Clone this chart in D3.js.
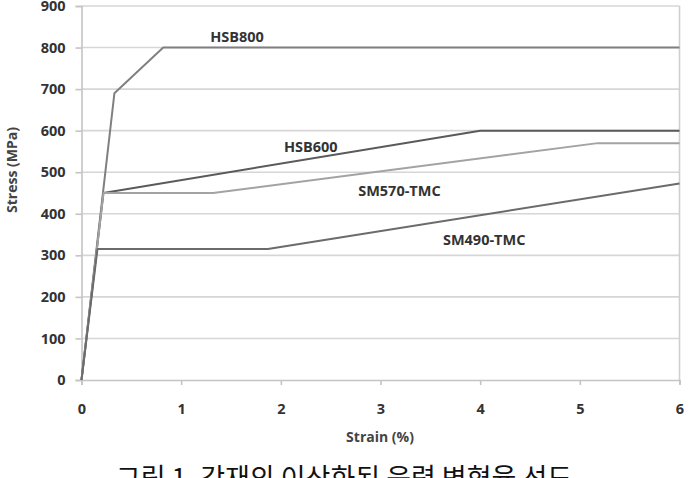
<!DOCTYPE html>
<html><head><meta charset="utf-8">
<script src="https://cdn.jsdelivr.net/npm/d3@7"></script>
<style>body{margin:0;background:#fff}svg{display:block}</style>
</head><body>
<svg id="c" width="689" height="478"></svg>
<script>
const xTicks = [0,1,2,3,4,5,6];
const yTicks = [0,100,200,300,400,500,600,700,800,900];
const seriesNames = ["HSB800","HSB600","SM570-TMC","SM490-TMC"];
const hsb800Strain = [0, 0.33, 0.82, 6];
const hsb800Stress = [0, 690, 800, 800];
const hsb600Strain = [0, 0.22, 4.0, 6];
const hsb600Stress = [0, 450, 600, 600];
const sm570Strain = [0, 0.22, 1.32, 5.18, 6];
const sm570Stress = [0, 450, 450, 570, 570];
const sm490Strain = [0, 0.16, 1.87, 6];
const sm490Stress = [0, 315, 315, 473];
const labelStrain = [1.56, 2.3, 3.19, 4.04];
const labelStress = [827, 561, 455, 337];
const captionText = "그림 1. 강재의 이상화된 응력 변형율 선도";

const svg = d3.select("#c");
const x = d3.scaleLinear().domain([0,6]).range([81.5,679.5]);
const y = d3.scaleLinear().domain([0,900]).range([380,6]);

// gridlines
svg.append("g").selectAll("line").data(yTicks.filter(d=>d>0)).join("line")
  .attr("x1",x(0)).attr("x2",x(6)).attr("y1",d=>y(d)).attr("y2",d=>y(d))
  .attr("stroke","#d6d6d6").attr("stroke-width",1.6);
// right border
svg.append("line").attr("x1",x(6)).attr("x2",x(6)).attr("y1",y(900)).attr("y2",y(0))
  .attr("stroke","#cfcfcf").attr("stroke-width",1.6);

const font = "'Open Sans', sans-serif";
// y axis
const ya = svg.append("g").attr("transform",`translate(${x(0)},0)`)
  .call(d3.axisLeft(y).tickValues(yTicks).tickFormat(d3.format("d")).tickSize(6).tickPadding(10));
ya.select(".domain").attr("stroke","#c4c4c4").attr("stroke-width",1.6);
ya.selectAll(".tick line").attr("stroke","#c4c4c4").attr("stroke-width",1.6);
ya.selectAll("text").attr("font-family",font).attr("font-weight","bold").attr("font-size",14.5).attr("fill","#333");
// x axis
const xa = svg.append("g").attr("transform",`translate(0,${y(0)})`)
  .call(d3.axisBottom(x).tickValues(xTicks).tickFormat(d3.format("d")).tickSize(5).tickPadding(19));
xa.select(".domain").attr("stroke","#c4c4c4").attr("stroke-width",1.6);
xa.selectAll(".tick line").attr("stroke","#c4c4c4").attr("stroke-width",1.6);
xa.selectAll("text").attr("font-family",font).attr("font-weight","bold").attr("font-size",14.5).attr("fill","#333");

// axis titles
svg.append("text").attr("x",380).attr("y",442).attr("text-anchor","middle")
  .attr("font-family",font).attr("font-weight","bold").attr("font-size",14).attr("fill","#444").text("Strain (%)");
svg.append("text").attr("transform","translate(17,170) rotate(-90)").attr("text-anchor","middle")
  .attr("font-family",font).attr("font-weight","bold").attr("font-size",14).attr("fill","#444").text("Stress (MPa)");

// series
const series = [
  {sx:hsb800Strain, sy:hsb800Stress, color:"#808080", w:2},
  {sx:hsb600Strain, sy:hsb600Stress, color:"#5a5a5a", w:2},
  {sx:sm570Strain, sy:sm570Stress, color:"#a3a3a3", w:2},
  {sx:sm490Strain, sy:sm490Stress, color:"#6b6b6b", w:2}
];
const line = d3.line().x(d=>x(d[0])).y(d=>y(d[1]));
series.forEach(s=>{
  svg.append("path").datum(s.sx.map((v,i)=>[v,s.sy[i]]))
    .attr("d",line).attr("fill","none").attr("stroke",s.color).attr("stroke-width",s.w)
    .attr("stroke-linejoin","round");
});

// labels
svg.append("g").selectAll("text").data(seriesNames).join("text")
  .attr("x",(d,i)=>x(labelStrain[i])).attr("y",(d,i)=>y(labelStress[i]))
  .attr("text-anchor","middle").attr("dominant-baseline","central")
  .attr("font-family",font).attr("font-weight","bold").attr("font-size",14.5).attr("fill","#333")
  .text(d=>d);

// caption
svg.append("text").attr("x",344).attr("y",488).attr("text-anchor","middle")
  .attr("font-family","'Noto Sans CJK KR', sans-serif").attr("font-size",27).attr("fill","#111")
  .text(captionText);
</script>
</body></html>
